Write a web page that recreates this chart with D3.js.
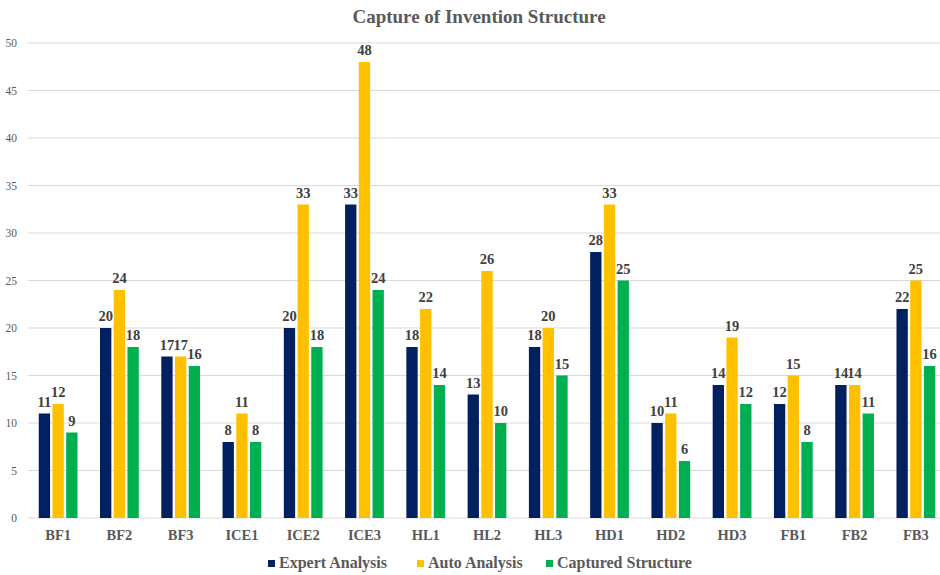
<!DOCTYPE html>
<html>
<head>
<meta charset="utf-8">
<script src="https://cdn.jsdelivr.net/npm/d3@7"></script>
<style>
  html, body { margin: 0; padding: 0; background: #fff; }
  svg { display: block; }
</style>
</head>
<body>
<svg id="chart" width="940" height="575"></svg>
<script>
const categories = ["BF1","BF2","BF3","ICE1","ICE2","ICE3","HL1","HL2","HL3","HD1","HD2","HD3","FB1","FB2","FB3"];
const expertAnalysis = [11,20,17,8,20,33,18,13,18,28,10,14,12,14,22];
const autoAnalysis = [12,24,17,11,33,48,22,26,20,33,11,19,15,14,25];
const capturedStructure = [9,18,16,8,18,24,14,10,15,25,6,12,8,11,16];
const seriesNames = ["Expert Analysis","Auto Analysis","Captured Structure"];
const seriesColors = ["#002060","#FFC000","#00B050"];
const yTicks = [0,5,10,15,20,25,30,35,40,45,50];

const series = [expertAnalysis, autoAnalysis, capturedStructure];
const svg = d3.select("#chart");
const font = "'Liberation Serif', 'Times New Roman', serif";

const x = d3.scaleBand().domain(categories).range([27.5, 946.5]).paddingInner(0).paddingOuter(0);
const y = d3.scaleLinear().domain([0, 50]).range([518, 43]);
const inner = d3.scaleBand().domain(d3.range(series.length)).range([0, x.bandwidth()]).paddingInner(0.175).paddingOuter(0.82);

// title
svg.append("text")
  .attr("x", 479).attr("y", 23)
  .attr("text-anchor", "middle")
  .attr("font-family", font).attr("font-weight", "bold")
  .attr("font-size", 19).attr("fill", "#595959")
  .text("Capture of Invention Structure");

// gridlines
svg.append("g").selectAll("line").data(yTicks).join("line")
  .attr("x1", 28).attr("x2", 940)
  .attr("y1", d => y(d)).attr("y2", d => y(d))
  .attr("stroke", "#d9d9d9").attr("stroke-width", 1.2);

// y axis labels
const yAxis = d3.axisLeft(y).tickValues(yTicks).tickSize(0).tickPadding(0);
const yg = svg.append("g").attr("transform", "translate(17,0)").call(yAxis);
yg.select(".domain").remove();
yg.selectAll("text").attr("font-family", font).attr("font-size", 11.5).attr("fill", "#595959");

// x axis labels
const xAxis = d3.axisBottom(x).tickSize(0).tickPadding(0);
const xg = svg.append("g").attr("transform", "translate(0,527)").call(xAxis);
xg.select(".domain").remove();
xg.selectAll("text").attr("font-family", font).attr("font-weight", "bold")
  .attr("font-size", 14.5).attr("fill", "#595959").attr("dy", "0.9em");

// bars and value labels
series.forEach((vals, si) => {
  const g = svg.append("g");
  g.selectAll("rect").data(vals).join("rect")
    .attr("x", (d, i) => x(categories[i]) + inner(si))
    .attr("width", inner.bandwidth())
    .attr("y", d => y(d))
    .attr("height", d => y(0) - y(d))
    .attr("fill", seriesColors[si]);
  g.selectAll("text").data(vals).join("text")
    .attr("x", (d, i) => x(categories[i]) + inner(si) + inner.bandwidth() / 2)
    .attr("y", d => y(d) - 7)
    .attr("text-anchor", "middle")
    .attr("font-family", font).attr("font-weight", "bold")
    .attr("font-size", 14.5).attr("fill", "#404040")
    .text(d => d);
});

// legend
const legendX = [268, 417, 546];
const lg = svg.append("g");
seriesNames.forEach((name, i) => {
  lg.append("rect")
    .attr("x", legendX[i]).attr("y", 560)
    .attr("width", 7).attr("height", 7)
    .attr("fill", seriesColors[i]);
  lg.append("text")
    .attr("x", legendX[i] + 11).attr("y", 568)
    .attr("font-family", font).attr("font-weight", "bold")
    .attr("font-size", 16).attr("fill", "#595959")
    .text(name);
});
</script>
</body>
</html>
